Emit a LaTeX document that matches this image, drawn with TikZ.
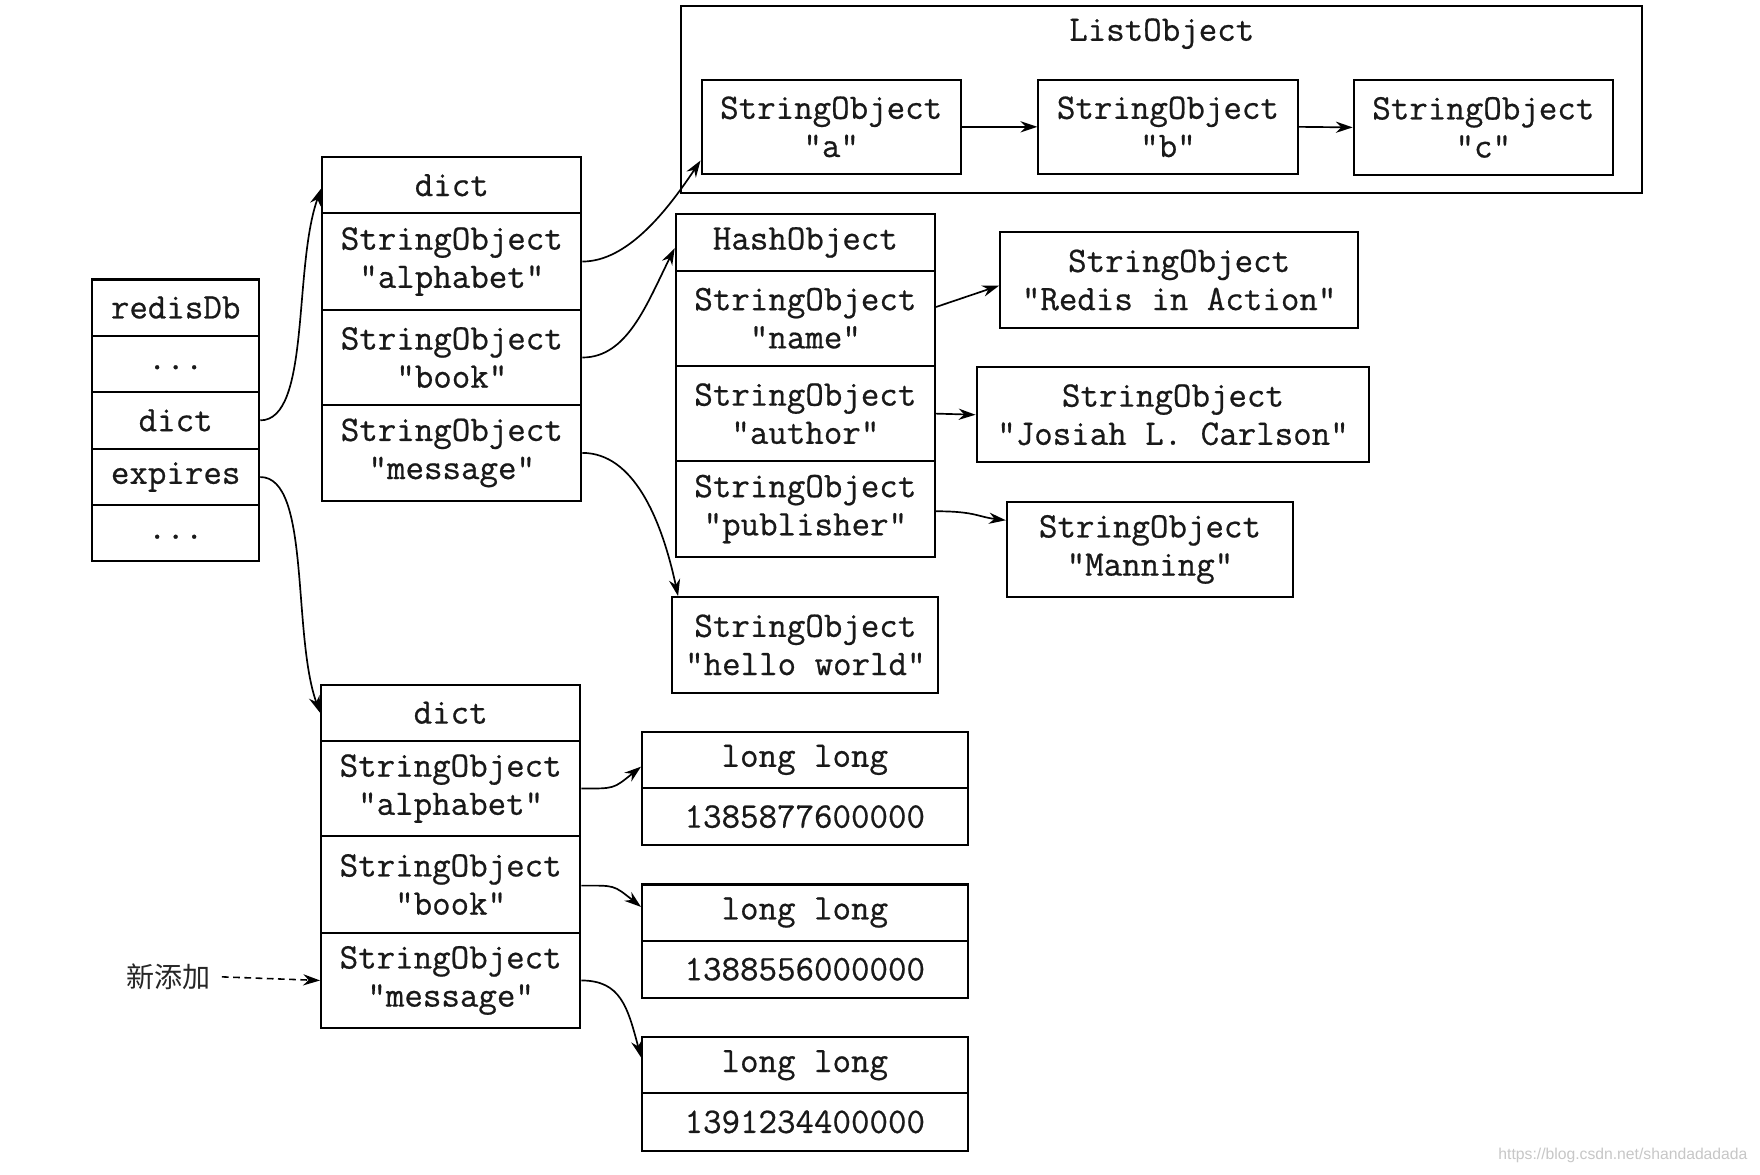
\documentclass[tikz,border=0pt]{standalone}
\usepackage{fontspec}
\newfontfamily\codefont{Latin Modern Mono}[FakeBold=0.6]
\newfontfamily\cjkfont{Noto Sans CJK SC}
\newfontfamily\wmfont{Liberation Sans}
\usetikzlibrary{arrows.meta}
\tikzset{
  cell/.style={draw, line width=1.8pt, inner sep=0pt, align=center,
    font=\codefont\fontsize{32}{34}\selectfont, text=black!90},
  conn/.style={line width=1.5pt, -{Stealth[length=15pt,width=10pt]}},
  dconn/.style={line width=1.4pt, dash pattern=on 6pt off 4pt, shorten <=8pt, -{Stealth[length=15pt,width=10pt]}}
}
\newcommand{\lowdots}{\raisebox{-5pt}[0pt][0pt]{...}}
\begin{document}
\begin{tikzpicture}[x=1pt,y=-1pt]
\useasboundingbox[fill=white] (0,0) rectangle (1568,1046);

% redisDb
\node[cell, minimum width=149pt, minimum height=50pt] (rdb1) at (156.5,274) {redisDb};
\node[cell, minimum width=149pt, minimum height=50pt] (rdb2) at (156.5,324) {\lowdots};
\node[cell, minimum width=149pt, minimum height=51pt] (rdb3) at (156.5,374.5) {dict};
\node[cell, minimum width=149pt, minimum height=50pt] (rdb4) at (156.5,425) {expires};
\node[cell, minimum width=149pt, minimum height=50pt] (rdb5) at (156.5,475) {\lowdots};

% top dict
\node[cell, minimum width=231pt, minimum height=50pt] (d1h) at (402.5,165) {dict};
\node[cell, minimum width=231pt, minimum height=86pt] (d1a) at (402.5,233) {StringObject\\"alphabet"};
\node[cell, minimum width=231pt, minimum height=85pt] (d1b) at (402.5,318.5) {StringObject\\"book"};
\node[cell, minimum width=231pt, minimum height=85pt] (d1c) at (402.5,403.5) {StringObject\\"message"};

% ListObject
\node[cell, minimum width=856pt, minimum height=167pt] (lo) at (1035,88.5) {};
\node[cell, draw=none] (lot) at (1035,30) {ListObject};
\node[cell, minimum width=231pt, minimum height=84pt] (sa) at (740.5,113) {StringObject\\"a"};
\node[cell, minimum width=231pt, minimum height=84pt] (sb) at (1040.5,113) {StringObject\\"b"};
\node[cell, minimum width=231pt, minimum height=85pt] (sc) at (1321.5,113.5) {StringObject\\"c"};

% HashObject
\node[cell, minimum width=231pt, minimum height=50pt] (hh) at (717.5,216) {HashObject};
\node[cell, minimum width=231pt, minimum height=85pt] (h1) at (717.5,283.5) {StringObject\\"name"};
\node[cell, minimum width=231pt, minimum height=85pt] (h2) at (717.5,368.5) {StringObject\\"author"};
\node[cell, minimum width=231pt, minimum height=85pt] (h3) at (717.5,453.5) {StringObject\\"publisher"};

\node[cell, minimum width=319pt, minimum height=85pt] (ria) at (1050.5,249.5) {StringObject\\"Redis in Action"};
\node[cell, minimum width=350pt, minimum height=85pt] (jos) at (1045,369.5) {StringObject\\"Josiah L. Carlson"};
\node[cell, minimum width=255pt, minimum height=85pt] (man) at (1024.5,489.5) {StringObject\\"Manning"};
\node[cell, minimum width=237pt, minimum height=85pt] (hw) at (717.5,574.5) {StringObject\\"hello world"};

% bottom dict
\node[cell, minimum width=231pt, minimum height=50pt] (d2h) at (401.5,635) {dict};
\node[cell, minimum width=231pt, minimum height=85pt] (d2a) at (401.5,702.5) {StringObject\\"alphabet"};
\node[cell, minimum width=231pt, minimum height=86pt] (d2b) at (401.5,788) {StringObject\\"book"};
\node[cell, minimum width=231pt, minimum height=85pt] (d2c) at (401.5,873.5) {StringObject\\"message"};

% long long
\node[cell, minimum width=290pt, minimum height=50pt] (l1h) at (717,677) {long long};
\node[cell, minimum width=290pt, minimum height=51pt] (l1v) at (717,727.5) {1385877600000};
\node[cell, minimum width=290pt, minimum height=50pt] (l2h) at (717,813) {long long};
\node[cell, minimum width=290pt, minimum height=51pt] (l2v) at (717,863.5) {1388556000000};
\node[cell, minimum width=290pt, minimum height=50pt] (l3h) at (717,949) {long long};
\node[cell, minimum width=290pt, minimum height=51pt] (l3v) at (717,999.5) {1391234400000};

% label
\node[font=\cjkfont\fontsize{25}{30}\selectfont, text=black!85, inner sep=2pt] (nw) at (150,870) {新添加};
\node[font=\wmfont\fontsize{14}{16}\selectfont, text=black!22, anchor=east, inner sep=0pt] (wm) at (1557,1029) {https://blog.csdn.net/shandadadada};

% connectors
\draw[conn] (rdb3.east) .. controls +(45,0) and +(-25,70) .. ([yshift=-3pt]d1h.west);
\draw[conn] (rdb4.east) .. controls +(45,0) and +(-25,-70) .. (d2h.west);
\draw[conn] (d1a.east) .. controls +(40,0) and +(-30,45) .. ([yshift=-30pt]sa.west);
\draw[conn] (d1b.east) .. controls +(40,0) and +(-25,50) .. ([yshift=-5pt]hh.west);
\draw[conn] (d1c.east) .. controls +(45,0) and +(-15,-70) .. ([xshift=6pt]hw.north west);
\draw[conn] (sa.east) -- (sb.west);
\draw[conn] (sb.east) -- (sc.west);
\draw[conn] ([yshift=10pt]h1.east) -- ([yshift=-5pt]ria.west);
\draw[conn] (h2.east) -- (jos.west);
\draw[conn] ([yshift=-2pt]h3.east) .. controls +(35,0) and +(-25,-3) .. ([yshift=26pt]man.west);
\draw[conn] (d2a.east) .. controls +(30,0) and +(-25,20) .. ([yshift=-6pt]l1h.west);
\draw[conn] ([yshift=-1pt]d2b.east) .. controls +(30,0) and +(-25,-20) .. ([yshift=5pt]l2h.west);
\draw[conn] (d2c.east) .. controls +(35,0) and +(-12,-45) .. ([yshift=7pt]l3h.west);
\draw[dconn] (nw.east) -- (d2c.west);
\end{tikzpicture}
\end{document}
